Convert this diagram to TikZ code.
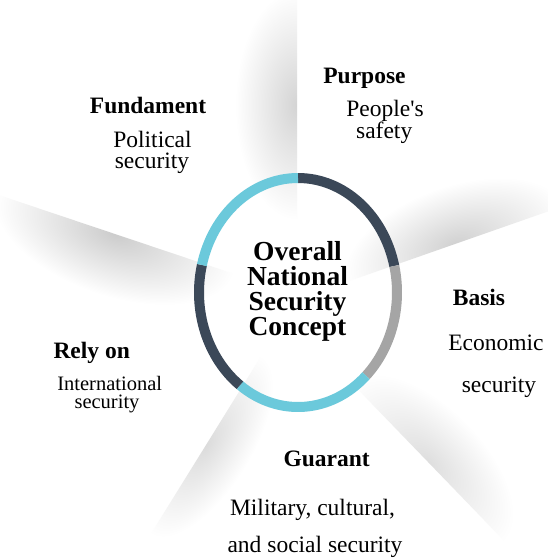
\documentclass[tikz,border=0pt]{standalone}
\usepackage{fontspec}
\setmainfont{Liberation Serif}[Ligatures=TeXOff]
\definecolor{ringdark}{HTML}{3B4858}
\definecolor{ringgray}{HTML}{A5A5A5}
\definecolor{ringblue}{HTML}{6BC9DB}
\tikzset{
  ringseg/.style={line width=10pt},
  lbl/.style={anchor=base, inner sep=0pt, font=\fontsize{23.5}{26}\selectfont\bfseries},
  txt/.style={anchor=base, inner sep=0pt, font=\fontsize{23.5}{26}\selectfont},
  smalltxt/.style={anchor=base, inner sep=0pt, font=\fontsize{20.5}{22}\selectfont},
  ctr/.style={anchor=base, inner sep=0pt, font=\fontsize{27.5}{25}\selectfont\bfseries},
}
% #1,#2 centre on the panel edge, #3 edge angle, #4 half length, #5 width, #6 gray amount
\newcommand{\softshadow}[6]{%
  \begin{scope}[transform canvas={shift={(#1pt,#2pt)}, rotate=#3}]
    \clip (-#4pt,0pt) rectangle (#4pt,#5pt);
    \shade[inner color=gray!#6, outer color=white] (0pt,0pt) ellipse [x radius=#4pt, y radius=#5pt];
  \end{scope}}
\begin{document}
\begin{tikzpicture}[x=1pt,y=1pt]
\fill[white] (0,0) rectangle (548,-558);
\useasboundingbox (0,0) rectangle (548,-558);
% panel shadows
\softshadow{297}{-105}{90}{115}{62}{34}
\softshadow{455}{-244}{19.3}{115}{58}{36}
\softshadow{115}{-234}{161.45}{125}{62}{40}
\softshadow{206}{-445}{238.2}{105}{45}{28}
\softshadow{428}{-462}{-46}{110}{55}{26}
% ring
\coordinate (C) at (298,-292.5);
\draw[ringseg, ringdark] (C) ++(90:99pt and 114.5pt) arc[start angle=90, end angle=13.4, x radius=99pt, y radius=114.5pt];
\draw[ringseg, ringgray] (C) ++(13.4:99pt and 114.5pt) arc[start angle=13.4, end angle=-46.6, x radius=99pt, y radius=114.5pt];
\draw[ringseg, ringblue] (C) ++(-46.6:99pt and 114.5pt) arc[start angle=-46.6, end angle=-125.9, x radius=99pt, y radius=114.5pt];
\draw[ringseg, ringdark] (C) ++(-125.9:99pt and 114.5pt) arc[start angle=-125.9, end angle=-193.9, x radius=99pt, y radius=114.5pt];
\draw[ringseg, ringblue] (C) ++(166.1:99pt and 114.5pt) arc[start angle=166.1, end angle=90, x radius=99pt, y radius=114.5pt];
% center text
\node[ctr] (c1) at (297.5,-260) {Overall};
\node[ctr] (c2) at (297.5,-285) {National};
\node[ctr] (c3) at (297.5,-310) {Security};
\node[ctr] (c4) at (297.5,-335) {Concept};
% Purpose
\node[lbl] (purpose) at (364.5,-83.3) {Purpose};
\node[txt] (people) at (385,-116) {People's};
\node[txt] (safety) at (384.2,-138.3) {safety};
% Fundament
\node[lbl] (fund) at (148,-113.3) {Fundament};
\node[txt] (polit) at (152.5,-147) {Political};
\node[txt] (polsec) at (152,-168.5) {security};
% Basis
\node[lbl] (basis) at (479,-305) {Basis};
\node[txt] (econ) at (496,-350.7) {Economic};
\node[txt] (econsec) at (499,-392) {security};
% Rely on
\node[lbl] (rely) at (91.7,-358.3) {Rely on};
\node[smalltxt] (intl) at (109.7,-390) {International};
\node[smalltxt] (intlsec) at (107,-408.5) {security};
% Guarant
\node[lbl] (guar) at (326.7,-466.7) {Guarant};
\node[txt] (mil) at (312.5,-515) {Military, cultural,};
\node[txt] (soc) at (315,-552.5) {and social security};
\end{tikzpicture}
\end{document}
